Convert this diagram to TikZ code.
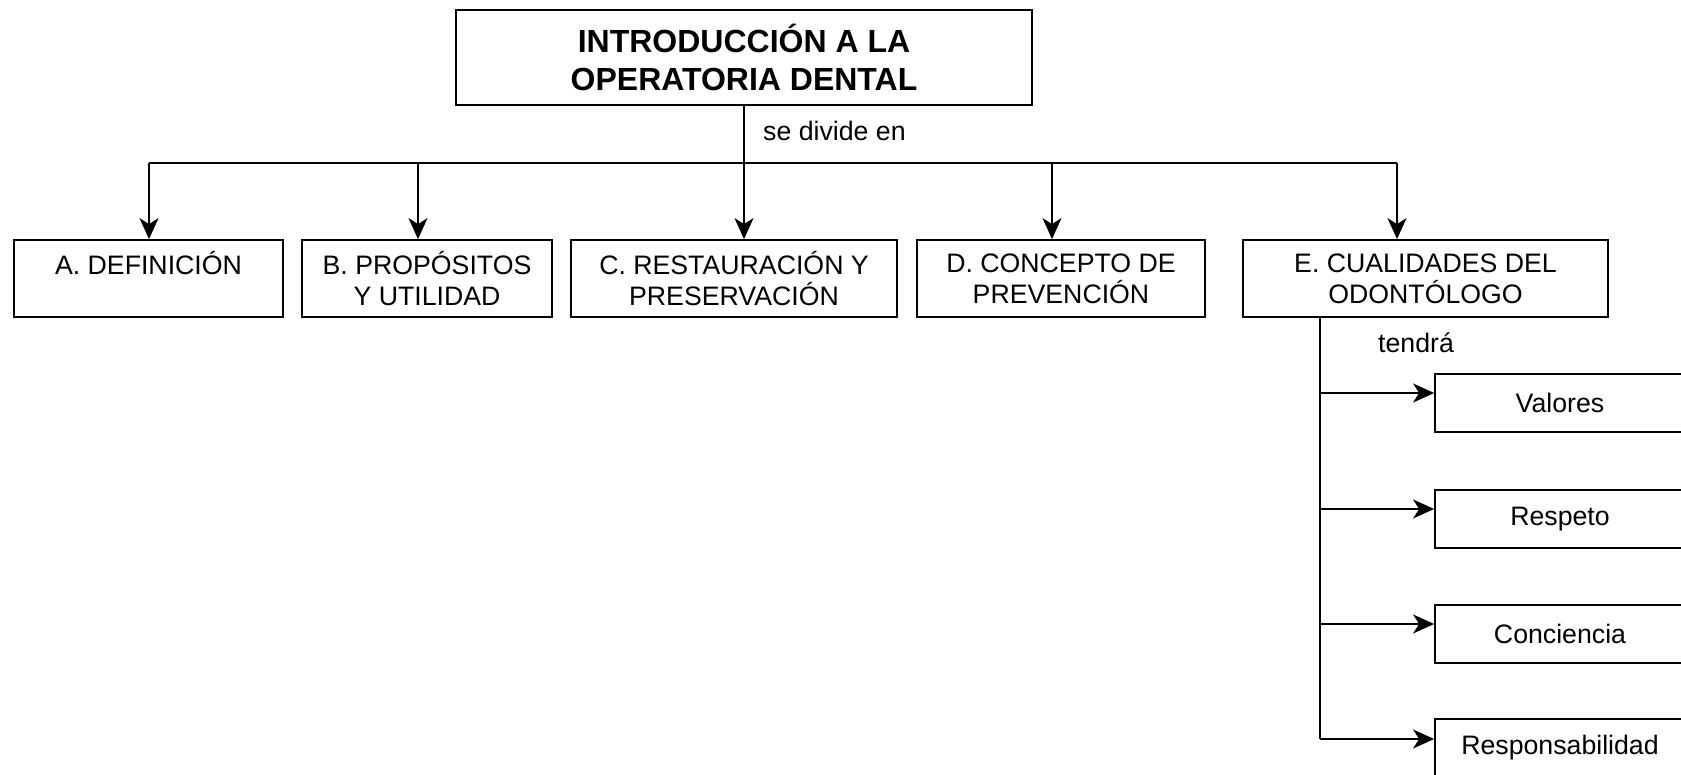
\documentclass[tikz,border=0pt]{standalone}
\usepackage{fontspec}
\setmainfont{Liberation Sans}
\usetikzlibrary{arrows.meta}
\tikzset{myarrowtip/.tip={Stealth[length=21pt,width=19pt,inset=6pt]}}
\begin{document}
\begin{tikzpicture}[x=1pt,y=-1pt,
  box/.style={draw, line width=1.8pt, inner sep=0pt, align=center,
    font=\fontsize{26.7}{30.7}\selectfont},
  titlebox/.style={box, font=\fontsize{32}{37.5}\selectfont\bfseries},
  lbl/.style={inner sep=0pt, font=\fontsize{26.7}{30.7}\selectfont},
  conn/.style={line width=1.8pt},
  arr/.style={conn, -myarrowtip}]
\clip (0,0) rectangle (1681,775);
\fill[white] (0,0) rectangle (1681,775);
% title
\node[titlebox, minimum width=576pt, minimum height=95pt] (T) at (744,57.5)
  {INTRODUCCIÓN A LA\\OPERATORIA DENTAL};
% row boxes
\node[box, minimum width=269pt, minimum height=77pt] (A) at (148.5,278.5) {A. DEFINICIÓN\\\mbox{}};
\node[box, minimum width=250pt, minimum height=77pt] (B) at (427,278.5) {B. PROPÓSITOS\\Y UTILIDAD};
\node[box, minimum width=326pt, minimum height=77pt] (C) at (734,278.5) {C. RESTAURACIÓN Y\\PRESERVACIÓN};
\node[box, minimum width=288pt, minimum height=77pt] (D) at (1061,278.5) {D. CONCEPTO DE\\PREVENCIÓN};
\node[box, minimum width=365pt, minimum height=77pt] (E) at (1425.5,278.5) {E. CUALIDADES DEL\\ODONTÓLOGO};
% right boxes
\node[box, minimum width=250pt, minimum height=58pt] (V) at (1560,403) {Valores};
\node[box, minimum width=250pt, minimum height=58pt] (R) at (1560,519) {Respeto};
\node[box, minimum width=250pt, minimum height=58pt] (Co) at (1560,634) {Conciencia};
\node[box, minimum width=250pt, minimum height=58pt] (Re) at (1560,748) {Responsabilidad};
% labels
\node[lbl, anchor=west] (sd) at (763,131) {se divide en};
\node[lbl] (te) at (1416,343) {tendrá};
% bus
\coordinate (bA) at (149,163);
\coordinate (bB) at (418,163);
\coordinate (bC) at (744,163);
\coordinate (bD) at (1052,163);
\coordinate (bE) at (1397,163);
\draw[conn] (T.south) -- (bC);
\draw[conn] (bA) -- (bE);
\draw[arr] (bA) -- (bA |- A.north);
\draw[arr] (bB) -- (bB |- B.north);
\draw[arr] (bC) -- (bC |- C.north);
\draw[arr] (bD) -- (bD |- D.north);
\draw[arr] (bE) -- (bE |- E.north);
% right branch
\coordinate (e1) at (1320,393);
\coordinate (e2) at (1320,509);
\coordinate (e3) at (1320,624);
\coordinate (e4) at (1320,739);
\draw[conn] (e1 |- E.south) -- (e4);
\draw[arr] (e1) -- (V.west |- e1);
\draw[arr] (e2) -- (R.west |- e2);
\draw[arr] (e3) -- (Co.west |- e3);
\draw[arr] (e4) -- (Re.west |- e4);
\end{tikzpicture}
\end{document}
